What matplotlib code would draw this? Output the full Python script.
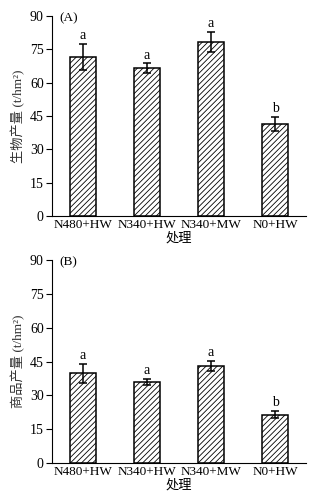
import numpy as np
import matplotlib.pyplot as plt

plt.rcParams['font.family'] = ['Liberation Serif', 'Noto Sans CJK SC']
plt.rcParams['hatch.linewidth'] = 0.6

treatments = ['N480+HW', 'N340+HW', 'N340+MW', 'N0+HW']
bio_yield = [71.5, 66.5, 78.5, 41.5]
bio_err = [6.0, 2.2, 4.5, 3.2]
bio_letters = ['a', 'a', 'a', 'b']
com_yield = [39.8, 36.0, 43.0, 21.5]
com_err = [4.3, 1.3, 2.4, 1.6]
com_letters = ['a', 'a', 'a', 'b']
yticks = [0, 15, 30, 45, 60, 75, 90]

fig = plt.figure(figsize=(3.23, 4.98), dpi=100)
ax1 = fig.add_axes([0.161, 0.566, 0.786, 0.402])
ax2 = fig.add_axes([0.161, 0.070, 0.786, 0.408])

panels = [
    (ax1, bio_yield, bio_err, bio_letters, '(A)', '生物产量 (t/hm²)'),
    (ax2, com_yield, com_err, com_letters, '(B)', '商品产量 (t/hm²)'),
]

x = np.arange(len(treatments))
for ax, vals, errs, letters, tag, ylab in panels:
    ax.bar(x, vals, width=0.4, color='white', edgecolor='black',
           linewidth=1.1, hatch='//////', yerr=errs, capsize=3,
           error_kw=dict(elinewidth=1.1, capthick=1.1, ecolor='black'))
    for xi, v, e, l in zip(x, vals, errs, letters):
        ax.text(xi, v + e + 0.8, l, ha='center', va='bottom', fontsize=10)
    ax.set_xlim(-0.48, 3.48)
    ax.set_ylim(0, 90)
    ax.set_yticks(yticks)
    ax.set_xticks(x)
    ax.set_xticklabels(treatments, fontsize=9.5)
    ax.tick_params(axis='y', direction='out', length=4, labelsize=10, pad=2)
    ax.tick_params(axis='x', length=0, pad=2)
    ax.spines['top'].set_visible(False)
    ax.spines['right'].set_visible(False)
    ax.set_xlabel('处理', fontsize=9.5, labelpad=1)
    ax.set_ylabel(ylab, fontsize=9.5, labelpad=3, color='#333333')
    ax.text(0.03, 0.99, tag, transform=ax.transAxes, ha='left', va='center',
            fontsize=9.5)

fig.savefig('out.png', dpi=100)
